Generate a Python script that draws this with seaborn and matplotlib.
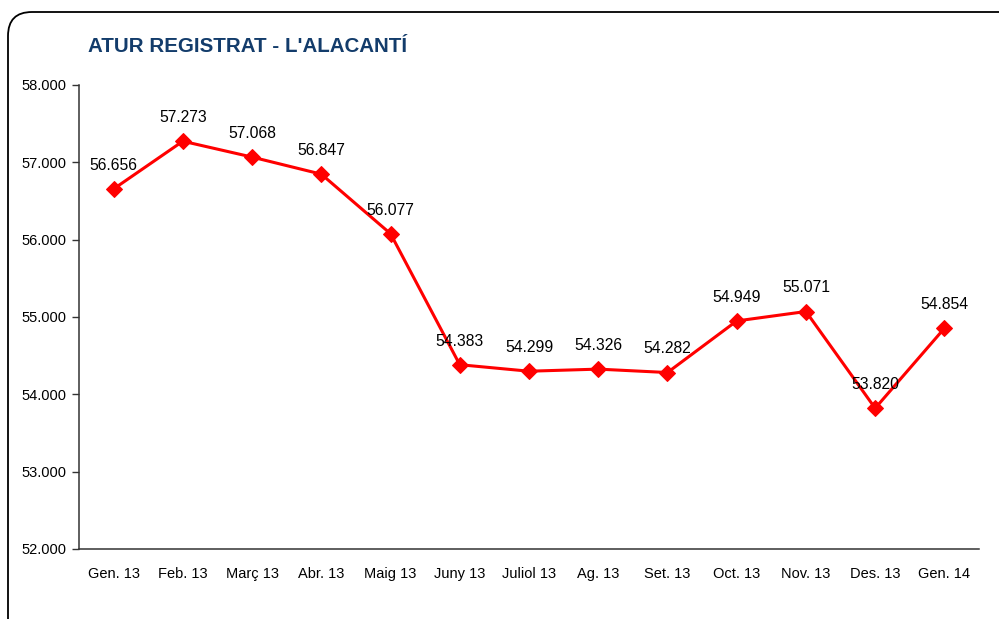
import matplotlib
matplotlib.use("Agg")
import matplotlib.pyplot as plt
from matplotlib.patches import FancyBboxPatch
from matplotlib.ticker import FixedLocator, FuncFormatter, NullFormatter
import seaborn as sns
import pandas as pd

months = ["Gen. 13", "Feb. 13", "Març 13", "Abr. 13", "Maig 13", "Juny 13",
          "Juliol 13", "Ag. 13", "Set. 13", "Oct. 13", "Nov. 13", "Des. 13", "Gen. 14"]
atur = [56656, 57273, 57068, 56847, 56077, 54383, 54299, 54326, 54282,
        54949, 55071, 53820, 54854]
y_ticks = [52000, 53000, 54000, 55000, 56000, 57000, 58000]
title = "ATUR REGISTRAT - L'ALACANTÍ"

sns.set_theme(style="white")
plt.rcParams["font.family"] = ["Liberation Sans", "DejaVu Sans"]


def dotted(v):
    return f"{int(v):,}".replace(",", ".")


df = pd.DataFrame({"pos": range(len(months)), "mes": months, "atur": atur})

fig = plt.figure(figsize=(9.99, 6.19), dpi=100)
fig.patch.set_facecolor("white")

# rounded frame around the chart
frame = FancyBboxPatch((8 / 999, -0.2), 1.2, 1 - 12 / 619 + 0.2,
                       boxstyle="round,pad=0,rounding_size=0.024",
                       transform=fig.transFigure, facecolor="none",
                       edgecolor="black", linewidth=1.3, mutation_aspect=999 / 619)
fig.patches.append(frame)

ax = fig.add_axes([79 / 999, 1 - 549 / 619, 900 / 999, (549 - 85) / 619])
ax.set_facecolor("white")

sns.lineplot(data=df, x="pos", y="atur", ax=ax, color="#FF0000", linewidth=2.2,
             marker="D", markersize=8, markeredgecolor="#FF0000")

for x, v in zip(df["pos"], df["atur"]):
    ax.annotate(dotted(v), (x, v), xytext=(0, 17), textcoords="offset points",
                ha="center", va="center", fontsize=11.3, color="black")

ax.set_xlim(-0.5, len(months) - 0.5)
ax.set_ylim(y_ticks[0], y_ticks[-1])
ax.set_yticks(y_ticks)
ax.yaxis.set_major_formatter(FuncFormatter(lambda v, _: dotted(v)))

# tick marks between categories, labels centred on each category
ax.xaxis.set_major_locator(FixedLocator([i - 0.5 for i in range(len(months) + 1)]))
ax.xaxis.set_major_formatter(NullFormatter())
ax.xaxis.set_minor_locator(FixedLocator(list(range(len(months)))))
ax.set_xticks(range(len(months)), labels=months, minor=True)
ax.tick_params(axis="x", which="major", direction="out", length=5, width=1, color="#333333")
ax.tick_params(axis="x", which="minor", length=0, pad=13, labelsize=10.5, labelcolor="black")
ax.tick_params(axis="y", direction="out", length=5, width=1, color="#333333",
               pad=4, labelsize=10.5, labelcolor="black", left=True)

ax.set_xlabel("")
ax.set_ylabel("")
for side in ("top", "right"):
    ax.spines[side].set_visible(False)
for side in ("left", "bottom"):
    ax.spines[side].set_color("#333333")
    ax.spines[side].set_linewidth(1.1)
ax.grid(False)

fig.text(88 / 999, 1 - 47 / 619, title, fontsize=14.8, fontweight="bold",
         color="#133C6B", ha="left", va="center")

fig.savefig("out.png", dpi=100, facecolor="white")
